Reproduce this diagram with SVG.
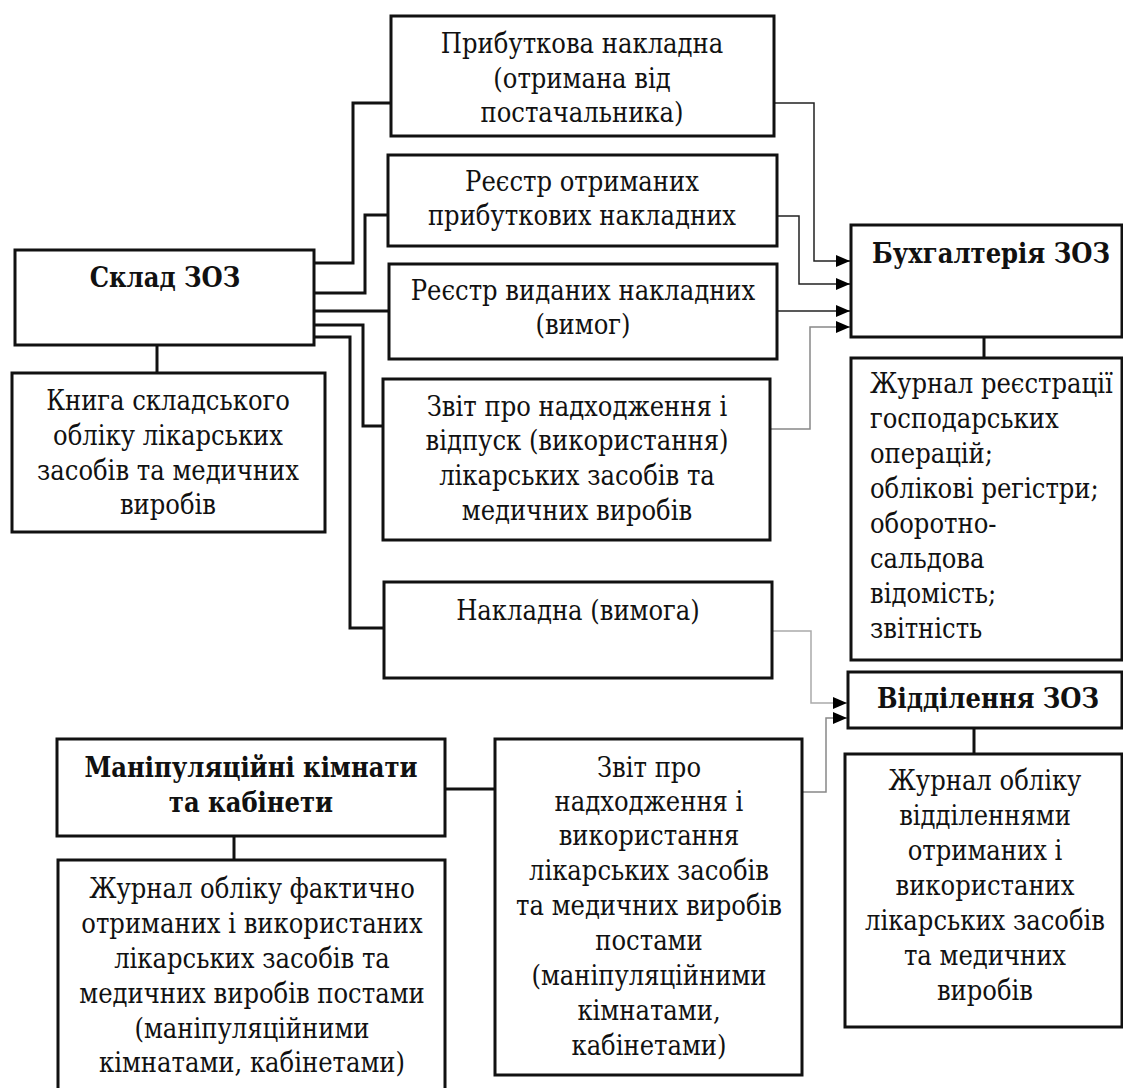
<svg xmlns="http://www.w3.org/2000/svg" width="1123" height="1088" viewBox="0 0 1123 1088">
<style>
.box{fill:#fff;stroke:#111;stroke-width:3}
.t{font-family:"DejaVu Serif Condensed","DejaVu Serif",serif;font-stretch:condensed;font-size:27px;fill:#111}
.c{text-anchor:middle}
.b{font-weight:bold}
.thick{fill:none;stroke:#111;stroke-width:3}
.thin{fill:none;stroke:#222;stroke-width:1.5}
.gray{fill:none;stroke:#888;stroke-width:1.5}
.lgray{fill:none;stroke:#aaa;stroke-width:1.5}
</style>
<defs>
<marker id="ah" viewBox="0 0 14 12" refX="14" refY="6" markerWidth="14" markerHeight="12" markerUnits="userSpaceOnUse" orient="auto">
<path d="M0,0 L14,6 L0,12 z" fill="#000"/>
</marker>
</defs>
<g id="connectors">
<path class="thick" d="M314,263 H353 V103 H391"/>
<path class="thick" d="M314,293 H365 V215 H388"/>
<path class="thick" d="M314,311 H389"/>
<path class="thick" d="M314,325 H363 V426 H383"/>
<path class="thick" d="M314,337 H350 V628 H384"/>
<path class="thick" d="M157,345 V373"/>
<path class="thick" d="M984,337 V358"/>
<path class="thick" d="M974,728 V754"/>
<path class="thick" d="M234,836 V860"/>
<path class="thick" d="M445,789 H495"/>
<path class="thin" d="M774,103 H814 V261 H850" marker-end="url(#ah)"/>
<path class="thin" d="M777,216 H799 V284 H850" marker-end="url(#ah)"/>
<path class="thin" d="M777,311 H850" marker-end="url(#ah)"/>
<path class="gray" d="M770,429 H810 V327 H850" marker-end="url(#ah)"/>
<path class="lgray" d="M772,631 H811 V703 H847" marker-end="url(#ah)"/>
<path class="gray" d="M802,792 H826 V718 H847" marker-end="url(#ah)"/>
</g>
<g id="sklad">
<rect class="box" x="15" y="250" width="299" height="95"/>
<text class="t c b" x="165" y="287">Склад ЗОЗ</text>
</g>
<g id="knyha">
<rect class="box" x="12" y="373" width="313" height="159"/>
<text class="t c"><tspan x="168" y="410">Книга складського</tspan><tspan x="168" y="445">обліку лікарських</tspan><tspan x="168" y="480">засобів та медичних</tspan><tspan x="168" y="514">виробів</tspan></text>
</g>
<g id="prybut">
<rect class="box" x="391" y="16" width="383" height="120"/>
<text class="t c"><tspan x="582" y="53">Прибуткова накладна</tspan><tspan x="582" y="88">(отримана від</tspan><tspan x="582" y="122">постачальника)</tspan></text>
</g>
<g id="reestr1">
<rect class="box" x="388" y="155" width="389" height="91"/>
<text class="t c"><tspan x="582" y="191">Реєстр отриманих</tspan><tspan x="582" y="225">прибуткових накладних</tspan></text>
</g>
<g id="reestr2">
<rect class="box" x="389" y="264" width="388" height="95"/>
<text class="t c"><tspan x="583" y="300">Реєстр виданих накладних</tspan><tspan x="583" y="334">(вимог)</tspan></text>
</g>
<g id="zvit1">
<rect class="box" x="383" y="379" width="387" height="161"/>
<text class="t c"><tspan x="577" y="416">Звіт про надходження і</tspan><tspan x="577" y="450">відпуск (використання)</tspan><tspan x="577" y="485">лікарських засобів та</tspan><tspan x="577" y="520">медичних виробів</tspan></text>
</g>
<g id="naklad">
<rect class="box" x="384" y="582" width="388" height="96"/>
<text class="t c" x="578" y="620">Накладна (вимога)</text>
</g>
<g id="buh">
<rect class="box" x="851" y="225" width="271" height="112"/>
<text class="t c b" x="991" y="263">Бухгалтерія ЗОЗ</text>
</g>
<g id="buhjournal">
<rect class="box" x="851" y="358" width="271" height="302"/>
<text class="t"><tspan x="870" y="393">Журнал реєстрації</tspan><tspan x="870" y="428">господарських</tspan><tspan x="870" y="463">операцій;</tspan><tspan x="870" y="498">облікові регістри;</tspan><tspan x="870" y="533">оборотно-</tspan><tspan x="870" y="568">сальдова</tspan><tspan x="870" y="603">відомість;</tspan><tspan x="870" y="638">звітність</tspan></text>
</g>
<g id="viddil">
<rect class="box" x="848" y="672" width="274" height="56"/>
<text class="t c b" x="988" y="708">Відділення ЗОЗ</text>
</g>
<g id="viddjournal">
<rect class="box" x="845" y="754" width="277" height="273"/>
<text class="t c"><tspan x="985" y="790">Журнал обліку</tspan><tspan x="985" y="825">відділеннями</tspan><tspan x="985" y="860">отриманих і</tspan><tspan x="985" y="895">використаних</tspan><tspan x="985" y="930">лікарських засобів</tspan><tspan x="985" y="965">та медичних</tspan><tspan x="985" y="1000">виробів</tspan></text>
</g>
<g id="manip">
<rect class="box" x="57" y="739" width="388" height="97"/>
<text class="t c b"><tspan x="251" y="777">Маніпуляційні кімнати</tspan><tspan x="251" y="812">та кабінети</tspan></text>
</g>
<g id="manipjournal">
<rect class="box" x="58" y="860" width="387" height="245"/>
<text class="t c"><tspan x="252" y="898">Журнал обліку фактично</tspan><tspan x="252" y="933">отриманих і використаних</tspan><tspan x="252" y="968">лікарських засобів та</tspan><tspan x="252" y="1003">медичних виробів постами</tspan><tspan x="252" y="1038">(маніпуляційними</tspan><tspan x="252" y="1072">кімнатами, кабінетами)</tspan></text>
</g>
<g id="zvit2">
<rect class="box" x="495" y="739" width="307" height="336"/>
<text class="t c"><tspan x="649" y="777">Звіт про</tspan><tspan x="649" y="811">надходження і</tspan><tspan x="649" y="845">використання</tspan><tspan x="649" y="880">лікарських засобів</tspan><tspan x="649" y="915">та медичних виробів</tspan><tspan x="649" y="950">постами</tspan><tspan x="649" y="985">(маніпуляційними</tspan><tspan x="649" y="1020">кімнатами,</tspan><tspan x="649" y="1055">кабінетами)</tspan></text>
</g>
</svg>
